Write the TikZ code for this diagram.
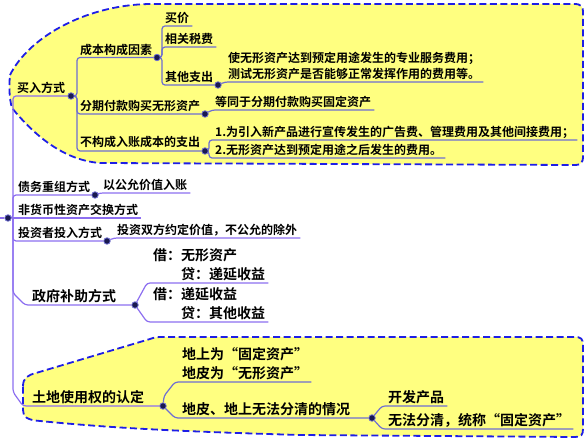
\documentclass[tikz,border=0pt]{standalone}
\usepackage{fontspec}
\setmainfont{Noto Sans CJK SC}[BoldFont={Noto Sans CJK SC Bold}]
\usetikzlibrary{calc}
\pgfdeclarelayer{back}
\pgfdeclarelayer{mid}
\pgfsetlayers{back,mid,main}
\definecolor{fillY}{RGB}{255,255,128}
\definecolor{bord}{RGB}{30,30,230}
\definecolor{trunkc}{RGB}{140,110,240}
\definecolor{linec}{RGB}{110,110,210}
\definecolor{dotf}{RGB}{25,25,80}
\tikzset{
 t12/.style={font=\fontsize{12}{16.5}\selectfont\bfseries, anchor=south west, inner xsep=3pt, inner ysep=0pt, text depth=3pt, align=left},
 t14/.style={font=\fontsize{14}{18.5}\selectfont\bfseries, anchor=south west, inner xsep=3pt, inner ysep=0pt, text depth=3.6pt, align=left},
 dotn/.style={circle, fill=dotf, draw=linec, line width=0.8pt, inner sep=0pt, minimum size=6.5pt},
 ul/.style={draw=linec, line width=1.2pt, rounded corners=3pt},
 tk/.style={draw=trunkc, line width=1.2pt, rounded corners=3pt},
 bound/.style={fill=fillY, draw=bord, line width=1.8pt, dash pattern=on 7pt off 3.5pt},
}
\begin{document}
\begin{tikzpicture}[x=1pt,y=-1pt]
\useasboundingbox (0,0) rectangle (588,443);
% text nodes
\node[t12] (buy) at (14,96) {买入方式};
\node[t12] (cost) at (77,57.5) {成本构成因素};
\node[t12] (price) at (162,26) {买价};
\node[t12] (tax) at (162,47) {相关税费};
\node[t12] (other) at (162,85) {其他支出};
\node[t12] (otherd) at (225,82) {使无形资产达到预定用途发生的专业服务费用；\\测试无形资产是否能够正常发挥作用的费用等。};
\node[t12] (inst) at (77,114) {分期付款购买无形资产};
\node[t12] (instd) at (212,110) {等同于分期付款购买固定资产};
\node[t12] (excl) at (77,150) {不构成入账成本的支出};
\node[t12] (excla) at (212,140) {1.为引入新产品进行宣传发生的广告费、管理费用及其他间接费用；};
\node[t12] (exclb) at (212,158) {2.无形资产达到预定用途之后发生的费用。};
\node[t12] (debt) at (15,195) {债务重组方式};
\node[t12] (debtd) at (100,193) {以公允价值入账};
\node[t12] (nonmon) at (15,218) {非货币性资产交换方式};
\node[t12] (inv) at (15,241) {投资者投入方式};
\node[t12] (invd) at (114,238) {投资双方约定价值，不公允的除外};
\node[t14] (gov) at (29,305) {政府补助方式};
\node[t14] (gova) at (150,283) {借：无形资产\\\hspace*{2em}贷：递延收益};
\node[t14] (govb) at (150,322) {借：递延收益\\\hspace*{2em}贷：其他收益};
\node[t14] (land) at (29,406) {土地使用权的认定};
\node[t14] (landa) at (179,382) {地上为“固定资产”\\地皮为“无形资产”};
\node[t14] (landb) at (179,418) {地皮、地上无法分清的情况};
\node[t14] (landba) at (385,406) {开发产品};
\node[t14] (landbb) at (385,429) {无法分清，统称“固定资产”};
% dots
\node[dotn] (root) at (8,218) {};
\node[dotn] (buydot) at (71,96) {};
\node[dotn] (costdot) at (157,57.5) {};
\node[dotn] (otherdot) at (218,85) {};
\node[dotn] (instdot) at (205,114) {};
\node[dotn] (excldot) at (205,151) {};
\node[dotn] (debtdot) at (95,195) {};
\node[dotn] (invdot) at (107,241) {};
\node[dotn] (govdot) at (135,305) {};
\node[dotn] (landdot) at (163,406) {};
\node[dotn] (landbdot) at (372,418) {};
\coordinate (rootin) at (0,218);
\coordinate (tr) at (13,218);
\begin{pgfonlayer}{back}
\path[bound] (10,75) .. controls (30,35) and (90,4) .. (152,4) -- (574,4) .. controls (581,4) and (583,6) .. (583,13) -- (583,156) .. controls (583,163) and (581,165) .. (574,165) -- (100,163) .. controls (60,160) and (30,130) .. (12,108) .. controls (9,98) and (9,85) .. (10,75) -- cycle;
\path[bound] (23,386) .. controls (23,378) and (28,375) .. (36,373) -- (150,339) .. controls (154,337.5) and (157,337) .. (162,337) -- (575,337) .. controls (581,337) and (583,339) .. (583,345) -- (583,429) .. controls (583,435) and (581,437) .. (575,437) -- (300,435) .. controls (200,432) and (120,429) .. (40,421) .. controls (27,420) and (23,417) .. (23,410) -- cycle;
\end{pgfonlayer}
\begin{pgfonlayer}{mid}
% trunk
\draw[tk] (rootin) -- (root);
\draw[tk] (root) -- (tr) |- (buydot);
\draw[tk] (tr) |- (debtdot);
\draw[tk] (root) -- (nonmon.south east);
\draw[tk] (tr) |- (invdot);
\draw[tk] (tr) -- ++(0,75) -- ++(12,12) -- (govdot);
\draw[tk] (tr) -- ++(0,174) -- ++(10,14) -- (landdot);
% top callout
\draw[ul] (buydot) -- ++(6,0) |- (costdot);
\draw[ul] (buydot) -- ++(6,0) |- (instdot);
\draw[ul] (buydot) -- ++(6,0) |- (excldot);
\draw[ul] (costdot) -- ++(5,0) |- (price.south east);
\draw[ul] (costdot) -- ++(5,0) |- (tax.south east);
\draw[ul] (costdot) -- ++(5,0) |- (otherdot);
\draw[ul] (otherdot) -- (otherd.south west) -- (otherd.south east);
\draw[ul] (instdot) -- (instd.south west) -- (instd.south east);
\draw[ul] (excldot) -- ++(4,0) |- (excla.south east);
\draw[ul] (excldot) -- ++(4,0) |- (exclb.south east);
% middle
\draw[tk] (debtdot) -- (debtd.south west) -- (debtd.south east);
\draw[tk] (invdot) -- (invd.south west) -- (invd.south east);
\draw[tk] (govdot) -- ($(gova.south west)+(-3,0)$) -- (gova.south east);
\draw[tk] (govdot) -- ($(govb.south west)+(-3,0)$) -- (govb.south east);
% land
\draw[ul] (landdot) -- ++(1,-10) -- ++(11,-14) -- (landa.south east);
\draw[ul] (landdot) -- ++(12,12) -- (landbdot);
\draw[ul] (landbdot) -- ++(10,-12) -- (landba.south east);
\draw[ul] (landbdot) -- ++(10,11) -- (landbb.south east);
\end{pgfonlayer}
\end{tikzpicture}
\end{document}
